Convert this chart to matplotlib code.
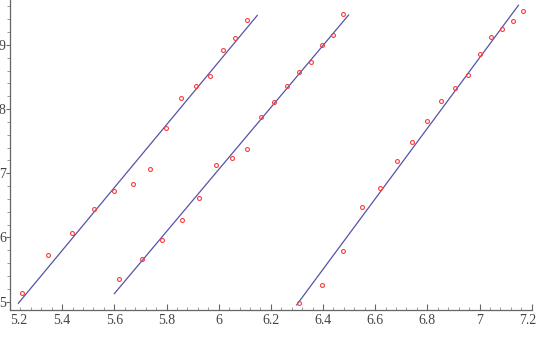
import numpy as np
import matplotlib.pyplot as plt
import matplotlib.transforms as mtransforms
from matplotlib.ticker import MultipleLocator, FuncFormatter

# data: three groups of points, each with a fitted line
x1 = [5.247, 5.347, 5.439, 5.522, 5.599, 5.670, 5.737, 5.799, 5.857, 5.913, 5.966, 6.015, 6.064, 6.109]
y1 = [5.136, 5.72, 6.065, 6.444, 6.72, 6.83, 7.06, 7.70, 8.17, 8.355, 8.52, 8.92, 9.11, 9.39]
line1_x = [5.232, 6.148]
line1_y = [4.975, 9.46]

x2 = [5.618, 5.705, 5.784, 5.858, 5.926, 5.991, 6.051, 6.109, 6.163, 6.213, 6.263, 6.309, 6.353, 6.395, 6.437, 6.477]
y2 = [5.354, 5.67, 5.956, 6.28, 6.615, 7.125, 7.24, 7.38, 7.88, 8.105, 8.36, 8.58, 8.73, 9.00, 9.15, 9.477]
line2_x = [5.600, 6.498]
line2_y = [5.125, 9.466]

x3 = [6.308, 6.396, 6.475, 6.549, 6.617, 6.682, 6.742, 6.800, 6.853, 6.905, 6.955, 7.001, 7.045, 7.087, 7.128, 7.168]
y3 = [4.98, 5.255, 5.79, 6.47, 6.776, 7.19, 7.49, 7.81, 8.126, 8.33, 8.526, 8.863, 9.118, 9.25, 9.38, 9.53]
line3_x = [6.299, 7.149]
line3_y = [4.95, 9.617]

xticks = [5.2, 5.4, 5.6, 5.8, 6.0, 6.2, 6.4, 6.6, 6.8, 7.0, 7.2]
yticks = [5, 6, 7, 8, 9]

line_color = "#5454a8"
point_color = "#ff3b3b"
text_color = "#444444"

plt.rcParams['font.family'] = ['Liberation Serif', 'DejaVu Serif']

fig = plt.figure(figsize=(5.38, 3.43), dpi=100)
ax = fig.add_axes([10 / 538, 33 / 343, (531.7 - 10) / 538, 310 / 343])

for lx, ly in [(line1_x, line1_y), (line2_x, line2_y), (line3_x, line3_y)]:
    ax.plot(lx, ly, color=line_color, lw=0.9)

for px, py in [(x1, y1), (x2, y2), (x3, y3)]:
    ax.plot(px, py, 'o', ms=2.8, mfc='none', mec=point_color, mew=0.8, ls='none')

ax.set_xlim(5.2, 7.2)
ax.set_ylim(4.87, 9.70)

for side in ['top', 'right']:
    ax.spines[side].set_visible(False)
for side in ['left', 'bottom']:
    ax.spines[side].set_color('#666666')
    ax.spines[side].set_linewidth(0.9)

ax.set_xticks(xticks)
ax.set_yticks(yticks)
ax.xaxis.set_minor_locator(MultipleLocator(0.04))
ax.yaxis.set_minor_locator(MultipleLocator(0.2))
ax.xaxis.set_major_formatter(FuncFormatter(lambda v, p: ('%.1f' % v).rstrip('0').rstrip('.')))
ax.yaxis.set_major_formatter(FuncFormatter(lambda v, p: '%d' % v))

ax.tick_params(axis='x', which='major', direction='in', length=4, width=0.8, color='#666666',
               labelsize=10, labelcolor=text_color, pad=3)
ax.tick_params(axis='x', which='minor', direction='in', length=2, width=0.6, color='#888888')
ax.tick_params(axis='y', which='major', direction='out', length=3, width=0.8, color='#666666',
               labelsize=10, labelcolor=text_color, pad=0)
ax.tick_params(axis='y', which='minor', direction='out', length=2, width=0.6, color='#888888')

# first x label sits just right of the y axis, last one kept inside the figure
fig.canvas.draw()
labels = ax.get_xticklabels()
labels[0].set_horizontalalignment('left')
shift = mtransforms.ScaledTranslation(-4 / 100, 0, fig.dpi_scale_trans)
labels[-1].set_transform(labels[-1].get_transform() + shift)

fig.savefig('out.png', dpi=100)
